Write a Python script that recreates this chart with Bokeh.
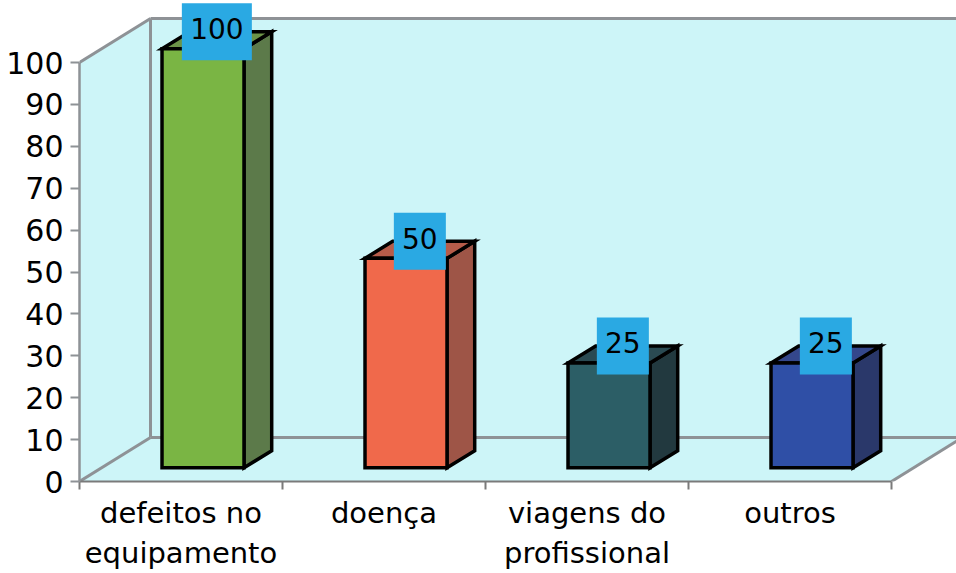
from bokeh.plotting import figure
from bokeh.models import Range1d, LinearAxis, FixedTicker, ColumnDataSource
from bokeh.core.properties import value
from bokeh.embed import file_html
from bokeh.resources import INLINE

# ---- data ----
categories = ["defeitos no\nequipamento", "doença", "viagens do\nprofissional", "outros"]
values = [100, 50, 25, 25]
y_ticks = [0, 10, 20, 30, 40, 50, 60, 70, 80, 90, 100]
front_colors = ["#7AB544", "#F0694B", "#2C5E66", "#2F4FA6"]
side_colors = ["#5C7A4A", "#9E5547", "#22393F", "#2A386A"]
top_colors = ["#6C9448", "#B65C4A", "#2A4A52", "#34478C"]

# ---- geometry (styles) ----
PX_X = 203.0   # px per category unit
PX_Y = 4.19    # px per value unit
DX = 71 / PX_X     # full depth shift in x units
DY = 44 / PX_Y     # full depth shift in y units
F0 = 0.31          # depth fraction of bar front face
BD = 0.39          # bar depth fraction
HW = 41 / PX_X     # half width of bar front face
N = len(categories)
WALL = "#CDF5F8"
EDGE = "#8E9296"

W, H = 956, 573
FRAME_L, FRAME_B = 79, 481
x_end = (W - FRAME_L) / PX_X
y_end = FRAME_B / PX_Y

p = figure(width=W, height=H, output_backend="svg", toolbar_location=None,
           x_range=Range1d(0, x_end), y_range=Range1d(0, y_end),
           x_axis_type=None, y_axis_type=None,
           min_border_left=FRAME_L, min_border_bottom=H - FRAME_B,
           min_border_top=0, min_border_right=0)
p.outline_line_color = None
p.background_fill_color = "white"
p.border_fill_color = "white"
p.xgrid.visible = False
p.ygrid.visible = False

ymax = max(y_ticks)
# walls
p.patches(xs=[[DX, DX, N + DX, N + DX],
               [0, 0, DX, DX],
               [0, DX, N + DX, N]],
          ys=[[DY, ymax + DY, ymax + DY, DY],
              [0, ymax, ymax + DY, DY],
              [0, DY, DY, 0]],
          fill_color=WALL, line_color=None)
p.multi_line(xs=[[0, DX], [DX, N + DX], [DX, DX], [DX, N + DX], [0, DX], [N, N + DX]],
             ys=[[ymax, ymax + DY], [ymax + DY, ymax + DY], [DY, ymax + DY], [DY, DY], [0, DY], [0, DY]],
             line_color=EDGE, line_width=3)

# bars
fx, fy, sx, sy, tx, ty = [], [], [], [], [], []
lx, ly, lw, lt = [], [], [], []
for i, v in enumerate(values):
    cx = i + 0.5 + F0 * DX
    x0, x1 = cx - HW, cx + HW
    yb = F0 * DY
    ddx, ddy = BD * DX, BD * DY
    fx.append([x0, x1, x1, x0]); fy.append([yb, yb, yb + v, yb + v])
    sx.append([x1, x1 + ddx, x1 + ddx, x1]); sy.append([yb, yb + ddy, yb + v + ddy, yb + v])
    tx.append([x0, x1, x1 + ddx, x0 + ddx]); ty.append([yb + v, yb + v, yb + v + ddy, yb + v + ddy])
    lx.append(cx + ddx / 2)
    ly.append(yb + v + ddy)
    lt.append(str(v))
    lw.append(16 + 18 * len(str(v)))

p.patches(xs=sx, ys=sy, fill_color=side_colors, line_color="black", line_width=3.5, line_join="miter")
p.patches(xs=tx, ys=ty, fill_color=top_colors, line_color="black", line_width=3.5, line_join="miter")
p.patches(xs=fx, ys=fy, fill_color=front_colors, line_color="black", line_width=3.5, line_join="miter")

lab = ColumnDataSource(dict(x=lx, y=ly, w=lw, t=lt))
p.rect(x="x", y="y", width="w", height=57, width_units="screen", height_units="screen",
       source=lab, fill_color="#2AA9E3", line_color=None)
p.text(x="x", y="y", text="t", source=lab, text_font=value("DejaVu Sans"), text_font_size="28px",
       text_align="center", text_baseline="middle", y_offset=-3, text_color="black")

# axes
yax = LinearAxis(ticker=FixedTicker(ticks=y_ticks), bounds=(0, ymax))
yax.axis_line_color = EDGE
yax.axis_line_width = 2.5
yax.major_tick_line_color = EDGE
yax.major_tick_line_width = 2
yax.major_tick_out = 9
yax.major_tick_in = 0
yax.minor_tick_line_color = None
yax.major_label_standoff = 7
yax.major_label_text_font = "DejaVu Sans"
yax.major_label_text_font_size = "30px"
yax.major_label_text_color = "black"
p.add_layout(yax, "left")

centers = [i + 0.5 for i in range(N)]
xax = LinearAxis(ticker=FixedTicker(ticks=centers, minor_ticks=list(range(N + 1))), bounds=(0, N))
xax.major_label_overrides = {c: lbl for c, lbl in zip(centers, categories)}
xax.axis_line_color = "#7A7A7A"
xax.axis_line_width = 2
xax.major_tick_line_color = None
xax.major_tick_out = 0
xax.major_tick_in = 0
xax.minor_tick_line_color = "#7A7A7A"
xax.minor_tick_line_width = 2
xax.minor_tick_out = 8
xax.minor_tick_in = 0
xax.major_label_standoff = 6
xax.major_label_text_font = "DejaVu Sans"
xax.major_label_text_font_size = "29px"
xax.major_label_text_color = "black"
xax.major_label_text_line_height = 1.18
p.add_layout(xax, "below")

open("out.html", "w").write(file_html(p, INLINE))
